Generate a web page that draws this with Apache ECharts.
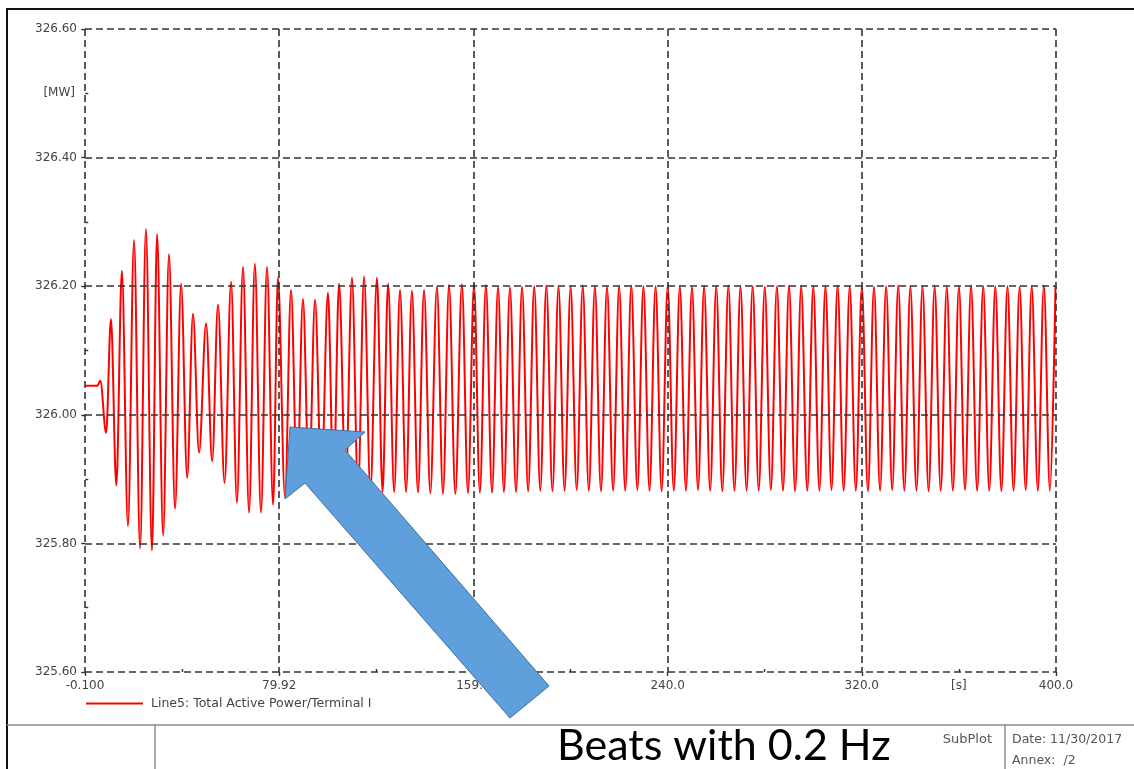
<!DOCTYPE html>
<html>
<head>
<meta charset="utf-8">
<script src="https://cdn.jsdelivr.net/npm/echarts@6/dist/echarts.min.js"></script>
<style>
  html, body { margin: 0; padding: 0; background: #fff; }
  #chart { width: 1134px; height: 769px; }
</style>
</head>
<body>
<div id="chart"></div>
<script>
// Total active power at the terminal, simulation time in seconds.
const seriesName = 'Line5: Total Active Power/Terminal I';

// Steady pre-disturbance stretch
const leadTimes  = [-0.1, 5.0, 6.2];
const leadValues = [326.045, 326.045, 326.053];

// Local maxima of each swing
const peakTimes = [
  10.6, 15.1, 20.1, 25.0, 29.6, 34.5, 39.5, 44.4, 49.8, 54.7,
  60.1, 65.0, 69.9, 74.9, 79.4, 84.8, 89.7, 94.7, 100.0, 104.6,
  109.9, 114.9, 120.2, 124.8, 129.7, 134.6, 139.6, 144.9, 149.9, 155.2,
  160.2, 165.1, 170.1, 175.0, 180.0, 185.0, 190.0, 195.0, 200.0, 205.0,
  210.0, 215.0, 220.0, 225.0, 230.0, 235.0, 240.0, 245.0, 250.0, 255.0,
  260.0, 265.0, 270.0, 275.0, 280.0, 285.0, 290.0, 295.0, 300.0, 305.0,
  310.0, 315.0, 320.0, 325.0, 330.0, 335.0, 340.0, 345.0, 350.0, 355.0,
  360.0, 365.0, 370.0, 375.0, 380.0, 385.0, 390.0, 395.0, 399.8
];
const peakValues = [
  326.149, 326.224, 326.272, 326.289, 326.281, 326.250, 326.204, 326.157, 326.142, 326.171,
  326.207, 326.230, 326.235, 326.230, 326.213, 326.194, 326.180, 326.179, 326.190, 326.204,
  326.213, 326.215, 326.213, 326.204, 326.194, 326.193, 326.194, 326.199, 326.202, 326.203,
  326.203, 326.202, 326.199, 326.198, 326.199, 326.200, 326.201, 326.200, 326.200, 326.201,
  326.200, 326.199, 326.200, 326.201, 326.200, 326.200, 326.201, 326.200, 326.199, 326.200,
  326.200, 326.201, 326.200, 326.200, 326.199, 326.200, 326.201, 326.200, 326.200, 326.200,
  326.201, 326.200, 326.200, 326.199, 326.200, 326.201, 326.200, 326.200, 326.200, 326.199,
  326.200, 326.201, 326.200, 326.200, 326.200, 326.199, 326.200, 326.201, 326.200
];

// Local minima of each swing
const troughTimes = [
  8.6, 12.8, 17.6, 22.6, 27.5, 32.1, 37.0, 42.0, 46.9, 52.3,
  57.4, 62.5, 67.5, 72.4, 77.4, 82.3, 87.3, 92.2, 97.3, 102.3,
  107.3, 112.4, 117.5, 122.5, 127.3, 132.2, 137.1, 142.2, 147.4, 152.5,
  157.7, 162.6, 167.6, 172.5, 177.5, 182.5, 187.5, 192.5, 197.5, 202.5,
  207.5, 212.5, 217.5, 222.5, 227.5, 232.5, 237.5, 242.5, 247.5, 252.5,
  257.5, 262.5, 267.5, 272.5, 277.5, 282.5, 287.5, 292.5, 297.5, 302.5,
  307.5, 312.5, 317.5, 322.5, 327.5, 332.5, 337.5, 342.5, 347.5, 352.5,
  357.5, 362.5, 367.5, 372.5, 377.5, 382.5, 387.5, 392.5, 397.5
];
const troughValues = [
  325.972, 325.890, 325.827, 325.792, 325.789, 325.812, 325.854, 325.902, 325.941, 325.928,
  325.894, 325.863, 325.848, 325.848, 325.860, 325.872, 325.888, 325.894, 325.893, 325.890,
  325.886, 325.884, 325.882, 325.880, 325.880, 325.880, 325.879, 325.878, 325.877, 325.877,
  325.878, 325.879, 325.879, 325.880, 325.880, 325.881, 325.882, 325.881, 325.882, 325.883,
  325.882, 325.881, 325.882, 325.882, 325.883, 325.882, 325.881, 325.882, 325.882, 325.883,
  325.882, 325.881, 325.882, 325.882, 325.882, 325.883, 325.882, 325.881, 325.882, 325.882,
  325.883, 325.882, 325.882, 325.881, 325.882, 325.883, 325.882, 325.882, 325.881, 325.882,
  325.882, 325.883, 325.882, 325.882, 325.881, 325.882, 325.883, 325.882, 325.882
];

// Axis ticks and their printed labels
const xTickValues = [-0.1, 79.92, 159.94, 239.96, 319.98, 400.0];
const xTickLabels = ['-0.100', '79.92', '159.9', '240.0', '320.0', '400.0'];
const xMinorValues = [39.91, 119.93, 199.95, 279.97, 359.99];
const xUnitValue = 359.99;
const xUnitLabel = '[s]';

const yTickValues = [325.6, 325.8, 326.0, 326.2, 326.4, 326.6];
const yTickLabels = ['325.60', '325.80', '326.00', '326.20', '326.40', '326.60'];
const yMinorValues = [325.7, 325.9, 326.1, 326.3, 326.5];
const yUnitValue = 326.5;
const yUnitLabel = '[MW]';

// Merge all samples in time order
const points = [];
leadTimes.forEach((t, i) => points.push([t, leadValues[i]]));
peakTimes.forEach((t, i) => points.push([t, peakValues[i]]));
troughTimes.forEach((t, i) => points.push([t, troughValues[i]]));
points.sort((a, b) => a[0] - b[0]);

function labelFor(values, labels) {
  return function (v) {
    let best = 0;
    values.forEach((c, i) => { if (Math.abs(c - v) < Math.abs(values[best] - v)) best = i; });
    return labels[best];
  };
}

const FONT = 'DejaVu Sans';
const gridLine = { color: '#333', width: 1.6, type: [7, 4] };
const tickLine = { color: '#333', width: 1.4 };
const labelStyle = { fontFamily: FONT, fontSize: 12, color: '#444' };

const chart = echarts.init(document.getElementById('chart'), null, { renderer: 'canvas' });

chart.setOption({
  animation: false,
  backgroundColor: '#ffffff',
  grid: { left: 85, right: 78, top: 29, bottom: 97, containLabel: false },
  legend: {
    left: 86, top: 697, padding: 0,
    icon: 'rect',
    itemWidth: 57, itemHeight: 2,
    data: [seriesName],
    textStyle: { fontFamily: FONT, fontSize: 12.5, color: '#444', padding: [0, 0, 0, 3] }
  },
  xAxis: [
    {
      type: 'value', min: -0.1, max: 400, z: 5,
      axisLine: { show: false },
      axisTick: { show: true, customValues: xTickValues, length: 4, lineStyle: tickLine },
      axisLabel: Object.assign({
        customValues: xTickValues, margin: 8,
        showMinLabel: true, showMaxLabel: true,
        formatter: labelFor(xTickValues, xTickLabels)
      }, labelStyle),
      splitLine: { show: true, showMinLine: true, showMaxLine: true, lineStyle: gridLine }
    },
    {
      type: 'value', min: -0.1, max: 400, position: 'bottom', z: 5,
      axisLine: { show: false },
      axisTick: { show: true, customValues: xMinorValues, inside: true, length: 3, lineStyle: tickLine },
      axisLabel: Object.assign({
        customValues: [xUnitValue], margin: 8,
        formatter: () => xUnitLabel
      }, labelStyle),
      splitLine: { show: false }
    }
  ],
  yAxis: [
    {
      type: 'value', min: 325.6, max: 326.6, z: 5, position: 'left',
      axisLine: { show: false },
      axisTick: { show: true, customValues: yTickValues, length: 4, lineStyle: tickLine },
      axisLabel: Object.assign({
        customValues: yTickValues, margin: 8,
        showMinLabel: true, showMaxLabel: true,
        formatter: labelFor(yTickValues, yTickLabels)
      }, labelStyle),
      splitLine: { show: true, showMinLine: true, showMaxLine: true, lineStyle: gridLine }
    },
    {
      type: 'value', min: 325.6, max: 326.6, z: 5, position: 'left', offset: 0,
      axisLine: { show: false },
      axisTick: { show: true, customValues: yMinorValues, inside: true, length: 3, lineStyle: tickLine },
      axisLabel: Object.assign({
        customValues: [yUnitValue], margin: 10,
        formatter: () => yUnitLabel
      }, labelStyle),
      splitLine: { show: false }
    }
  ],
  series: [
    {
      name: seriesName,
      type: 'line',
      xAxisIndex: 0, yAxisIndex: 0,
      data: points,
      symbol: 'none',
      showSymbol: false,
      smooth: 0.35,
      smoothMonotone: 'x',
      z: 2,
      lineStyle: { color: '#ff0000', width: 2 },
      itemStyle: { color: '#ff0000' }
    }
  ],
  graphic: [
    // page frame
    { type: 'line', z: 50, shape: { x1: 6, y1: 9, x2: 1134, y2: 9 }, style: { stroke: '#111', lineWidth: 2 } },
    { type: 'line', z: 50, shape: { x1: 7, y1: 9, x2: 7, y2: 769 }, style: { stroke: '#111', lineWidth: 2 } },
    // title block
    { type: 'line', z: 50, shape: { x1: 7, y1: 725, x2: 1134, y2: 725 }, style: { stroke: '#8c8c8c', lineWidth: 1.5 } },
    { type: 'line', z: 50, shape: { x1: 155, y1: 725, x2: 155, y2: 769 }, style: { stroke: '#8c8c8c', lineWidth: 1.5 } },
    { type: 'line', z: 50, shape: { x1: 1005, y1: 725, x2: 1005, y2: 769 }, style: { stroke: '#8c8c8c', lineWidth: 1.5 } },
    { type: 'text', z: 50, style: { text: 'SubPlot', x: 992, y: 740, align: 'right', verticalAlign: 'middle', font: '13px "DejaVu Sans"', fill: '#555' } },
    { type: 'text', z: 50, style: { text: 'Date: 11/30/2017', x: 1012, y: 740, align: 'left', verticalAlign: 'middle', font: '12.5px "DejaVu Sans"', fill: '#555' } },
    { type: 'text', z: 50, style: { text: 'Annex:  /2', x: 1012, y: 761, align: 'left', verticalAlign: 'middle', font: '12.5px "DejaVu Sans"', fill: '#555' } },
    { type: 'text', z: 60, style: { text: 'Beats with 0.2 Hz', x: 557, y: 746, align: 'left', verticalAlign: 'middle', font: '43px Lato', fill: '#000' } },
    // callout arrow
    {
      type: 'polygon', z: 100,
      shape: { points: [[290, 427], [365, 432], [345, 450], [549, 686], [510, 718], [305, 483], [285, 499]] },
      style: { fill: '#5e9fdc', stroke: '#41719c', lineWidth: 1 }
    }
  ]
});
</script>
</body>
</html>
